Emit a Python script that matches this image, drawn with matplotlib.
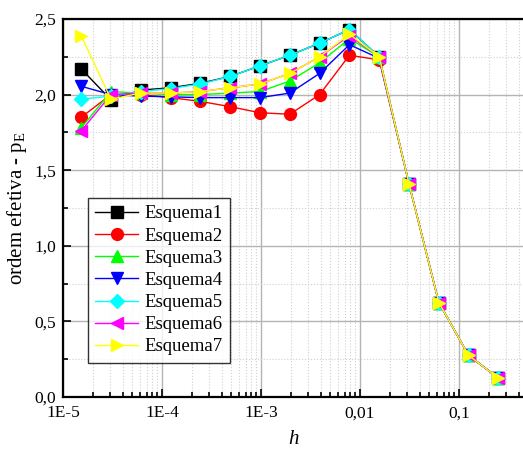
import matplotlib
matplotlib.use("Agg")
import matplotlib.pyplot as plt
from matplotlib.ticker import FixedLocator, FuncFormatter, LogLocator, NullFormatter, MultipleLocator

plt.rcParams["font.family"] = ["Liberation Serif", "DejaVu Serif"]
plt.rcParams["mathtext.fontset"] = "custom"
plt.rcParams["mathtext.rm"] = "Liberation Serif"
plt.rcParams["mathtext.it"] = "Liberation Serif:italic"

# step sizes h = 2^-16 ... 2^-2
h = [2.0 ** -k for k in range(16, 1, -1)]

tail = [2.25, 1.41, 0.625, 0.275, 0.125]
esquema1 = [2.17, 1.965, 2.03, 2.045, 2.075, 2.12, 2.19, 2.26, 2.34, 2.43] + tail
esquema2 = [1.85, 2.00, 2.00, 1.98, 1.955, 1.92, 1.88, 1.87, 2.00, 2.26, 2.23, 1.41, 0.625, 0.275, 0.125]
esquema3 = [1.78, 2.02, 2.01, 2.00, 2.00, 2.01, 2.02, 2.09, 2.21, 2.37] + tail
esquema4 = [2.055, 2.00, 1.99, 1.985, 1.98, 1.98, 1.98, 2.01, 2.14, 2.33, 2.24, 1.41, 0.625, 0.275, 0.125]
esquema5 = [1.97, 1.99, 2.02, 2.04, 2.07, 2.12, 2.19, 2.26, 2.34, 2.43] + tail
esquema6 = [1.76, 2.00, 2.01, 2.01, 2.02, 2.045, 2.07, 2.14, 2.25, 2.39] + tail
esquema7 = [2.39, 1.97, 2.01, 2.01, 2.02, 2.045, 2.07, 2.14, 2.25, 2.40] + tail

series = [
    ("Esquema1", esquema1, "black", "s"),
    ("Esquema2", esquema2, "red", "o"),
    ("Esquema3", esquema3, "#00ff00", "^"),
    ("Esquema4", esquema4, "blue", "v"),
    ("Esquema5", esquema5, "cyan", "D"),
    ("Esquema6", esquema6, "magenta", "<"),
    ("Esquema7", esquema7, "yellow", ">"),
]

fig = plt.figure(figsize=(5.23, 4.49), dpi=100)
ax = fig.add_axes([0.1205, 0.1158, 0.8795, 0.8419])

for name, vals, col, mk in series:
    ms = 7 if mk == "D" else 8.5
    ax.plot(h, vals, color=col, marker=mk, markersize=ms, linewidth=1.0,
            markeredgecolor=col, label=name)

ax.set_xscale("log")
ax.set_xlim(1e-5, 0.443)
ax.set_ylim(0, 2.5)

ax.xaxis.set_major_locator(FixedLocator([1e-5, 1e-4, 1e-3, 1e-2, 1e-1]))
xlab = {1e-5: "1E-5", 1e-4: "1E-4", 1e-3: "1E-3", 1e-2: "0,01", 1e-1: "0,1"}
ax.xaxis.set_major_formatter(FuncFormatter(lambda v, p: min(xlab.items(), key=lambda kv: abs(kv[0] - v))[1]))
ax.xaxis.set_minor_locator(LogLocator(base=10, subs=range(2, 10)))
ax.xaxis.set_minor_formatter(NullFormatter())

ax.yaxis.set_major_locator(MultipleLocator(0.5))
ax.yaxis.set_minor_locator(MultipleLocator(0.25))
ax.yaxis.set_major_formatter(FuncFormatter(lambda v, p: f"{v:.1f}".replace(".", ",")))

ax.grid(True, which="major", color="#b4b4b4", linewidth=1.0, linestyle="-")
ax.grid(True, which="minor", color="#d0d0d0", linewidth=0.8, linestyle=":")
ax.set_axisbelow(True)

ax.tick_params(which="both", direction="in", labelsize=12.5, width=1.2)
ax.tick_params(which="major", length=6)
ax.tick_params(which="minor", length=3.5)
ax.tick_params(axis="x", pad=6)
ax.tick_params(axis="y", pad=5)

for s in ["left", "bottom", "top"]:
    ax.spines[s].set_linewidth(1.6)
ax.spines["right"].set_visible(False)

ax.set_xlabel("h", fontsize=15, style="italic", labelpad=6)
ax.set_ylabel(r"ordem efetiva - p$_\mathregular{E}$", fontsize=15, labelpad=4)

leg = ax.legend(loc="lower left", bbox_to_anchor=(0.054, 0.09), fontsize=13.5,
                frameon=True, fancybox=False, edgecolor="black",
                handlelength=2.3, labelspacing=0.27, borderpad=0.4,
                handletextpad=0.3, borderaxespad=0)
leg.get_frame().set_linewidth(1.0)

fig.savefig("out.png", dpi=100)
